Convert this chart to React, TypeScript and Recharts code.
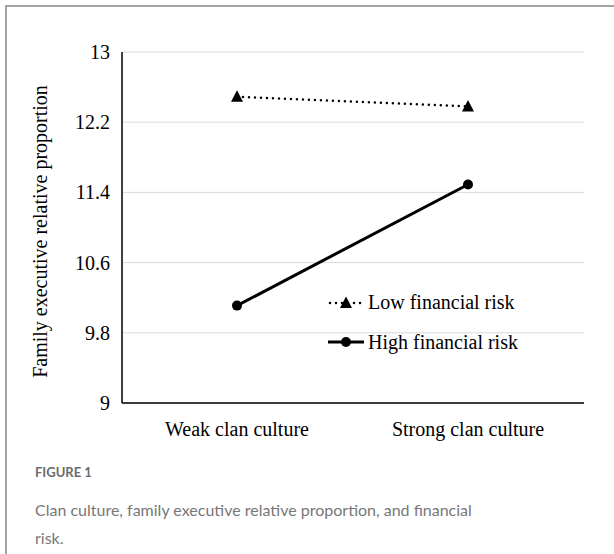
import { LineChart, Line, XAxis, YAxis, CartesianGrid } from "recharts";

const categories = ["Weak clan culture", "Strong clan culture"];
const lowRisk = [12.49, 12.38];
const highRisk = [10.11, 11.49];
const yTicks = [9, 9.8, 10.6, 11.4, 12.2, 13];

const data = categories.map((name, i) => ({
  name,
  low: lowRisk[i],
  high: highRisk[i],
}));

const serif = "'Liberation Serif', 'Times New Roman', serif";

const Triangle = ({ cx, cy }: { cx?: number; cy?: number }) => {
  if (cx == null || cy == null) return null;
  return (
    <polygon
      points={`${cx},${cy - 6.5} ${cx - 6},${cy + 5} ${cx + 6},${cy + 5}`}
      fill="#000"
    />
  );
};

const Circle = ({ cx, cy }: { cx?: number; cy?: number }) => {
  if (cx == null || cy == null) return null;
  return <circle cx={cx} cy={cy} r={5} fill="#000" />;
};

const YTick = ({ x, y, payload }: any) => (
  <text x={x} y={y} textAnchor="end" dominantBaseline="central" style={{ fontFamily: serif }} fontSize={20} fill="#000">
    {payload.value}
  </text>
);

const XTick = ({ x, y, payload }: any) => (
  <text x={x} y={y} dy={7} textAnchor="middle" dominantBaseline="central" style={{ fontFamily: serif }} fontSize={20} fill="#000">
    {payload.value}
  </text>
);

const LegendBox = () => (
  <div style={{ fontFamily: serif, fontSize: 20, color: "#000" }}>
    <div style={{ display: "flex", alignItems: "center", height: 40 }}>
      <svg width={36} height={16} style={{ marginRight: 4 }}>
        <line x1={2} y1={9} x2={34} y2={9} stroke="#000" strokeWidth={2.5} strokeDasharray="0 6" strokeLinecap="round" />
        <polygon points="18,2.5 12,14 24,14" fill="#000" />
      </svg>
      <span>Low financial risk</span>
    </div>
    <div style={{ display: "flex", alignItems: "center", height: 40 }}>
      <svg width={36} height={16} style={{ marginRight: 4 }}>
        <line x1={0} y1={8} x2={36} y2={8} stroke="#000" strokeWidth={3} />
        <circle cx={18} cy={8} r={5} fill="#000" />
      </svg>
      <span>High financial risk</span>
    </div>
  </div>
);

const YTitle = ({ viewBox }: any) => {
  const cy = viewBox ? viewBox.y + viewBox.height / 2 + 4 : 232;
  return (
    <text
      x={40}
      y={cy}
      transform={`rotate(-90, 40, ${cy})`}
      textAnchor="middle"
      dominantBaseline="central"
      style={{ fontFamily: serif }}
      fontSize={20}
      fill="#000"
    >
      Family executive relative proportion
    </text>
  );
};

export default function App() {
  return (
    <div>
      <div
        style={{
          position: "absolute",
          left: 5,
          top: 5,
          width: 609,
          height: 549,
          boxSizing: "border-box",
          borderTop: "2px solid #a3a3a3",
          borderLeft: "2px solid #a3a3a3",
        }}
      />
      <div style={{ position: "absolute", left: 0, top: 0 }}>
        <LineChart
          width={614}
          height={460}
          data={data}
          margin={{ top: 52, right: 30, left: 20, bottom: 17 }}
        >
          <CartesianGrid vertical={false} stroke="#d9d9d9" />
          <XAxis
            dataKey="name"
            height={40}
            padding={{ left: 115, right: 116 }}
            tickLine={false}
            tickSize={0}
            tickMargin={19}
            axisLine={{ stroke: "#000", strokeWidth: 1.5 }}
            tick={<XTick />}
          />
          <XAxis xAxisId="top" dataKey="name" orientation="top" height={0} tick={false} tickLine={false} axisLine={{ stroke: "#000", strokeWidth: 1.5 }} />
          <YAxis
            width={102}
            domain={[9, 13]}
            ticks={yTicks}
            interval={0}
            tickLine={false}
            tickSize={0}
            tickMargin={12}
            axisLine={{ stroke: "#000", strokeWidth: 1.5 }}
            tick={<YTick />}
            label={<YTitle />}
          />
          <YAxis yAxisId="right" orientation="right" width={0} domain={[9, 13]} tick={false} tickLine={false} axisLine={{ stroke: "#555", strokeWidth: 1.5 }} />
          <Line
            dataKey="low"
            stroke="#000"
            strokeWidth={2.5}
            strokeDasharray="0 6"
            strokeLinecap="round"
            dot={<Triangle />}
            activeDot={false}
            isAnimationActive={false}
          />
          <Line
            dataKey="high"
            stroke="#000"
            strokeWidth={3}
            dot={<Circle />}
            activeDot={false}
            isAnimationActive={false}
          />
        </LineChart>
      </div>
      <div style={{ position: "absolute", left: 328, top: 282 }}>
        <LegendBox />
      </div>
      <div
        style={{
          position: "absolute",
          left: 35,
          top: 463,
          width: 500,
          fontFamily: "Lato, 'Open Sans', sans-serif",
        }}
      >
        <div style={{ fontSize: 13, fontWeight: 700, color: "#6b6b6b", lineHeight: "18px" }}>FIGURE 1</div>
        <div style={{ fontSize: 16, color: "#777", lineHeight: "28px", marginTop: 15 }}>
          Clan culture, family executive relative proportion, and financial
          <br />
          risk.
        </div>
      </div>
    </div>
  );
}
